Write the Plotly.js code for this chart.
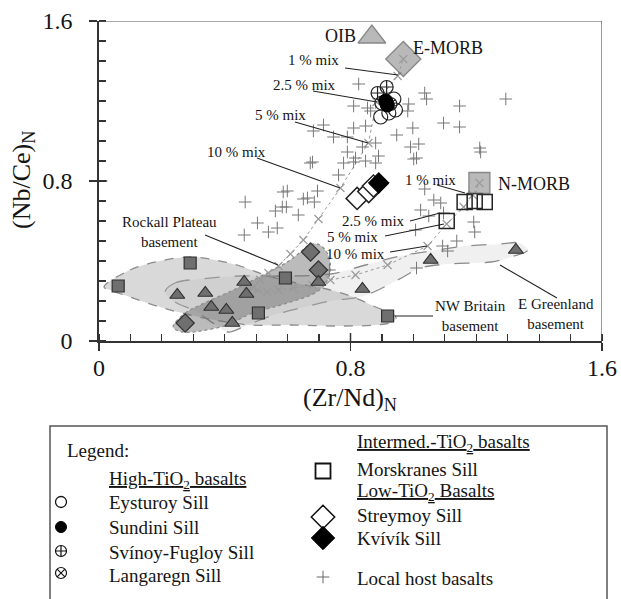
<!DOCTYPE html>
<html><head><meta charset="utf-8">
<script src="https://cdn.plot.ly/plotly-3.0.1.min.js"></script>
<style>html,body{margin:0;padding:0;background:#fff}#chart{width:621px;height:599px}</style>
</head><body><div id="chart"></div>
<script>
// ---------- DATA ----------
// Local host basalts (Zr/Nd)N , (Nb/Ce)N
const hostX = [0.826,1.036,1.042,1.147,1.294,0.810,0.854,0.864,0.985,0.982,
  0.714,0.682,0.746,0.790,0.810,0.848,0.998,1.096,1.147,0.947,
  0.880,0.838,0.991,1.017,1.001,1.010,1.211,0.790,0.816,0.848,
  0.880,0.889,0.778,0.810,0.679,0.762,0.695,1.036,0.672,0.586,
  0.599,0.650,0.663,0.685,0.465,0.583,0.596,0.504,0.462,0.539,
  0.567,0.561,0.634,1.065,1.087,1.096,1.023,1.049,1.192,1.195,
  1.138,1.007,1.093,1.109,1.010,0.733,1.214];
const hostY = [1.285,1.24,1.21,1.175,1.21,1.175,1.165,1.15,1.185,1.15,
  1.08,1.05,1.02,1.02,1.065,1.075,1.065,1.09,1.07,1.03,
  0.99,0.97,0.97,0.985,0.91,0.915,0.965,0.945,0.915,0.90,
  0.89,0.925,0.89,0.895,0.895,0.83,0.75,0.76,0.89,0.745,
  0.75,0.71,0.715,0.695,0.695,0.67,0.67,0.59,0.53,0.545,
  0.565,0.65,0.63,0.705,0.69,0.64,0.655,0.625,0.595,0.545,
  0.50,0.555,0.475,0.45,0.365,0.355,0.945];

// Sills
const eystX = [0.938,0.943,0.896,0.922,0.900];
const eystY = [1.21,1.155,1.12,1.14,1.19];
const langX = [0.927];
const langY = [1.185];
const sundX = [0.912,0.917];
const sundY = [1.20,1.18];
const svinX = [0.886,0.915];
const svinY = [1.24,1.27];
const morsX = [1.163,1.195,1.227,1.106];
const morsY = [0.695,0.70,0.695,0.60];
const streX = [0.821,0.858,0.873];
const streY = [0.713,0.747,0.775];
const kvivX = [0.890];
const kvivY = [0.79];

// Mantle end-members
const endNames = ['OIB','E-MORB','N-MORB'];
const endX = [0.868,0.968,1.210];
const endY = [1.52,1.41,0.79];

// Basement samples
const nwbX = [0.061,0.290,0.593,0.507,0.918];
const nwbY = [0.275,0.39,0.315,0.14,0.125];
const rockX = [0.274,0.673,0.698];
const rockY = [0.09,0.445,0.355];
const egX = [0.249,0.338,0.357,0.405,0.424,0.462,0.469,0.698,0.838,1.055,1.326];
const egY = [0.23,0.24,0.17,0.155,0.09,0.295,0.235,0.295,0.26,0.405,0.455];

// Basement fields (outlines)
const nwbFieldX = [0.016,0.099,0.194,0.290,0.370,0.449,0.529,0.641,0.736,0.816,0.880,0.934,0.945,0.934,0.880,0.768,0.609,0.481,0.386,0.290,0.194,0.099,0.035,0.016];
const nwbFieldY = [0.27,0.355,0.40,0.42,0.405,0.375,0.33,0.285,0.255,0.215,0.17,0.135,0.115,0.095,0.08,0.075,0.08,0.08,0.10,0.13,0.17,0.22,0.255,0.27];
const rockFieldX = [0.236,0.274,0.322,0.427,0.535,0.599,0.641,0.663,0.695,0.724,0.736,0.727,0.692,0.599,0.481,0.408,0.322,0.265,0.236];
const rockFieldY = [0.07,0.14,0.18,0.255,0.34,0.395,0.445,0.475,0.485,0.445,0.38,0.305,0.245,0.19,0.135,0.08,0.05,0.045,0.07];
const egFieldX = [0.210,0.242,0.322,0.449,0.577,0.736,0.848,0.959,1.055,1.167,1.278,1.335,1.364,1.310,1.246,1.109,1.023,0.950,0.841,0.736,0.641,0.545,0.465,0.411,0.367,0.306,0.242,0.210];
const egFieldY = [0.245,0.29,0.31,0.325,0.325,0.335,0.38,0.425,0.45,0.475,0.485,0.49,0.455,0.42,0.395,0.385,0.365,0.305,0.225,0.20,0.165,0.125,0.075,0.045,0.085,0.15,0.195,0.245];

// Mixing curves (basement -> E-MORB, basement -> N-MORB)
const mixAX = [0.472,0.491,0.513,0.539,0.571,0.609,0.650,0.698,0.768,0.857,0.883,0.950,0.968];
const mixAY = [0.245,0.27,0.305,0.34,0.375,0.435,0.505,0.61,0.765,0.99,1.195,1.325,1.41];
const mixBX = [0.472,0.504,0.535,0.571,0.618,0.679,0.736,0.816,0.918,1.045,1.106,1.160,1.189,1.21];
const mixBY = [0.255,0.255,0.245,0.255,0.265,0.28,0.305,0.33,0.38,0.475,0.585,0.67,0.73,0.79];

// ---------- STYLE ----------
const W = 621, H = 599;
const FONT = '"Liberation Serif", "DejaVu Serif", serif';
const TXT = '#141414';
const AX = '#333';

function field(x, y, fill, dash) {
  return {x: x, y: y, mode: 'lines', fill: 'toself', fillcolor: fill,
    line: {color: '#8c8c8c', width: 1.3, dash: dash, shape: 'spline', smoothing: 1},
    hoverinfo: 'skip', showlegend: false};
}
function pts(x, y, symbol, size, color, lineColor, lw, xa, ya) {
  return {x: x, y: y, mode: 'markers', xaxis: xa || 'x', yaxis: ya || 'y',
    marker: {symbol: symbol, size: size, color: color, line: {color: lineColor, width: lw}},
    hoverinfo: 'skip', showlegend: false};
}
function mix(x, y) {
  return {x: x, y: y, mode: 'lines+markers', line: {color: '#9a9a9a', width: 1, dash: 'dot'},
    marker: {symbol: 'x-thin-open', size: 8, line: {color: '#222', width: 1.2}},
    hoverinfo: 'skip', showlegend: false};
}

const traces = [
  field(egFieldX, egFieldY, 'rgba(215,215,215,0.38)', 'longdash'),
  field(nwbFieldX, nwbFieldY, 'rgba(165,165,165,0.42)', 'dash'),
  field(rockFieldX, rockFieldY, 'rgba(105,105,105,0.45)', 'dot'),
  mix(mixAX, mixAY),
  mix(mixBX, mixBY),
  pts(hostX, hostY, 'cross-thin-open', 9, '#777', '#707070', 1),
  pts(nwbX, nwbY, 'square', 12, '#6f6f6f', '#303030', 1.2),
  pts(rockX, rockY, 'diamond', 14, '#6f6f6f', '#303030', 1.2),
  pts(egX, egY, 'triangle-up', 13, '#6f6f6f', '#303030', 1.2),
  pts(langX, langY, 'circle-x-open', 13, '#222', '#222', 1.2),
  pts(eystX, eystY, 'circle-open', 14, '#222', '#222', 1.2),
  pts(svinX, svinY, 'circle-cross-open', 13, '#222', '#222', 1.2),
  pts(sundX, sundY, 'circle', 14, '#000', '#000', 1),
  pts(morsX, morsY, 'square-open', 15, '#222', '#222', 1.5),
  pts(streX, streY, 'diamond', 17, '#fff', '#222', 1.5),
  pts(kvivX, kvivY, 'diamond', 16, '#000', '#000', 1),
  {x: endX, y: endY, mode: 'markers', hoverinfo: 'skip', showlegend: false,
   marker: {symbol: ['triangle-up','diamond','square'], size: [24,27,21],
            color: '#9c9c9c', line: {color: '#555', width: 1.3}}},
  // legend symbols (pixel overlay axes)
  pts([61],[502],'circle-open',11,'#111','#111',1.3,'x2','y2'),
  pts([61],[527],'circle',11,'#000','#000',1,'x2','y2'),
  pts([61],[551],'circle-cross-open',11,'#111','#111',1.2,'x2','y2'),
  pts([61],[573],'circle-x-open',11,'#111','#111',1.2,'x2','y2'),
  pts([323],[471],'square-open',15,'#111','#111',1.8,'x2','y2'),
  pts([323],[517],'diamond-open',18,'#111','#111',1.5,'x2','y2'),
  pts([323],[538],'diamond',18,'#000','#000',1,'x2','y2'),
  pts([323],[577],'cross-thin-open',9,'#666','#666',1,'x2','y2')
];

// ---------- TEXT ----------
function txt(x, y, text, size, xanchor, extra) {
  return Object.assign({xref: 'x2', yref: 'y2', x: x, y: y, text: text, showarrow: false,
    xanchor: xanchor || 'center', yanchor: 'middle',
    font: {family: FONT, size: size, color: TXT}}, extra || {});
}
const annotations = [
  txt(340, 36, 'OIB', 18),
  txt(448, 48, 'E-MORB', 18),
  txt(534, 184, 'N-MORB', 18),
  txt(313, 60, '1 % mix', 15),
  txt(304, 85, '2.5 % mix', 15),
  txt(280, 115, '5 % mix', 15),
  txt(236, 152, '10 % mix', 15),
  txt(430, 180, '1 % mix', 15),
  txt(373, 221, '2.5 % mix', 15),
  txt(352, 237, '5 % mix', 15),
  txt(355, 254, '10 % mix', 15),
  txt(169, 232, 'Rockall Plateau<br>basement', 15),
  txt(470, 316, 'NW Britain<br>basement', 15),
  txt(556, 314, 'E Greenland<br>basement', 15),
  txt(350, 399, '(Zr/Nd)<sub>N</sub>', 26),
  txt(23, 180, '(Nb/Ce)<sub>N</sub>', 26, 'center', {textangle: -90}),
  // legend
  txt(65, 450, 'Legend:', 19, 'left'),
  txt(107, 480, '<u>High-TiO<sub>2</sub> basalts</u>', 19, 'left'),
  txt(107, 502, 'Eysturoy Sill', 19, 'left'),
  txt(107, 527, 'Sundini Sill', 19, 'left'),
  txt(107, 552, 'Svínoy-Fugloy Sill', 19, 'left'),
  txt(107, 575, 'Langaregn Sill', 19, 'left'),
  txt(355, 443, '<u>Intermed.-TiO<sub>2</sub> basalts</u>', 19, 'left'),
  txt(355, 469, 'Morskranes Sill', 19, 'left'),
  txt(355, 492, '<u>Low-TiO<sub>2</sub> Basalts</u>', 19, 'left'),
  txt(355, 515, 'Streymoy Sill', 19, 'left'),
  txt(355, 538, 'Kvívík Sill', 19, 'left'),
  txt(355, 578, 'Local host basalts', 19, 'left')
];

function seg(x0, y0, x1, y1, color, w) {
  return {type: 'line', xref: 'x2', yref: 'y2', x0: x0, y0: y0, x1: x1, y1: y1,
    line: {color: color || '#222', width: w || 1.1}};
}
const shapes = [
  // leader lines
  seg(345,68,398,75), seg(313,91,377,102), seg(295,122,368,143), seg(257,158,340,188),
  seg(437,185,465,193), seg(410,221,440,213), seg(385,236,444,224), seg(390,252,427,246),
  seg(205,235,278,265), seg(395,316,433,316), seg(500,265,557,298),
  // frame (top / right) and inner halves of major ticks
  {type:'line', xref:'x', yref:'y', x0:0, y0:1.6, x1:1.6, y1:1.6, line:{color:'#555', width:1.2}},
  {type:'line', xref:'x', yref:'y', x0:1.6, y0:0, x1:1.6, y1:1.6, line:{color:'#555', width:1.2}},
  {type:'line', xref:'x', yref:'y', x0:0.8, y0:0, x1:0.8, y1:0.04, line:{color:AX, width:1.5}},
  {type:'line', xref:'x', yref:'y', x0:0, y0:0.8, x1:0.026, y1:0.8, line:{color:AX, width:1.5}},
  // legend box
  {type:'rect', xref:'x2', yref:'y2', x0:50, y0:426, x1:607, y1:603, line:{color:'#555', width:1.5}}
];

const axCommon = {
  range: [0, 1.6], tickmode: 'linear', tick0: 0, dtick: 0.8,
  ticks: 'outside', ticklen: 8, tickwidth: 1.5, tickcolor: AX,
  showline: true, linecolor: AX, linewidth: 1.8, showgrid: false, zeroline: false,
  minor: {ticks: 'inside', dtick: 0.1, tick0: 0, ticklen: 7, tickwidth: 1.2, tickcolor: AX, showgrid: false},
  tickfont: {family: FONT, size: 24, color: TXT}, fixedrange: true
};

const layout = {
  width: W, height: H,
  margin: {l: 0, r: 0, t: 0, b: 0, pad: 0},
  paper_bgcolor: '#fff', plot_bgcolor: 'rgba(0,0,0,0)',
  font: {family: FONT, color: TXT},
  showlegend: false,
  xaxis: Object.assign({}, axCommon, {domain: [99 / W, 602 / W], anchor: 'y', ticklabelstandoff: -4}),
  yaxis: Object.assign({}, axCommon, {domain: [1 - 341 / H, 1 - 21 / H], anchor: 'x', ticklabelstandoff: 12}),
  xaxis2: {domain: [0, 1], range: [0, W], visible: false, anchor: 'y2', fixedrange: true},
  yaxis2: {domain: [0, 1], range: [H, 0], visible: false, anchor: 'x2', fixedrange: true},
  annotations: annotations,
  shapes: shapes
};

Plotly.newPlot('chart', traces, layout, {displayModeBar: false, staticPlot: true});
</script>
</body></html>
